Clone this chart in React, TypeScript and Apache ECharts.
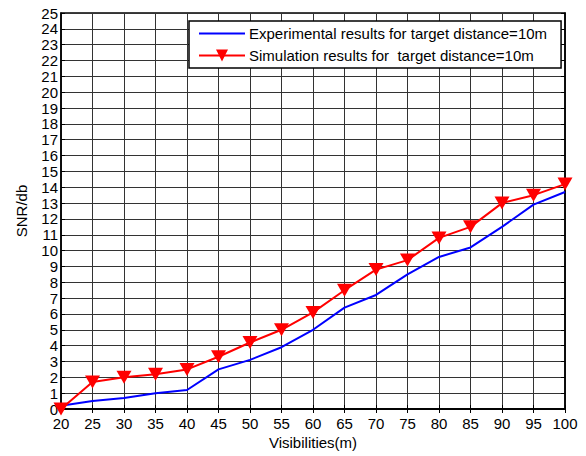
import React, { useEffect, useRef } from "react";
import * as echarts from "echarts";

const visibilities = [20, 25, 30, 35, 40, 45, 50, 55, 60, 65, 70, 75, 80, 85, 90, 95, 100];
const experimental = [0.2, 0.5, 0.7, 1.0, 1.2, 2.5, 3.1, 3.9, 5.0, 6.4, 7.2, 8.5, 9.6, 10.2, 11.5, 12.9, 13.7];
const simulation = [0.0, 1.7, 2.0, 2.2, 2.5, 3.3, 4.2, 5.0, 6.1, 7.5, 8.8, 9.4, 10.8, 11.5, 13.0, 13.5, 14.2];
const seriesNames = [
  "Experimental results for target distance=10m",
  "Simulation results for  target distance=10m",
];

const FONT = "Liberation Sans, Arial, sans-serif";
const FS = 15;

export default function App() {
  const ref = useRef<HTMLDivElement>(null);
  useEffect(() => {
    if (!ref.current) return;
    const chart = echarts.init(ref.current, null, { renderer: "svg" });
    const gridLine = { show: true, lineStyle: { color: "#333", width: 1 } };
    const tick = { show: true, inside: true, length: 4, lineStyle: { color: "#000", width: 1 } };
    chart.setOption({
      animation: false,
      backgroundColor: "#fff",
      textStyle: { fontFamily: FONT },
      grid: { left: 61, top: 13, right: 21, bottom: 47, show: true, borderColor: "#000", borderWidth: 1.5 },
      legend: {
        left: 189,
        top: 21,
        orient: "vertical",
        backgroundColor: "#fff",
        borderColor: "#000",
        borderWidth: 1.5,
        borderRadius: 0,
        padding: [5, 14, 5, 9],
        itemGap: 7,
        itemWidth: 46,
        itemHeight: 15,
        textStyle: { fontSize: FS, color: "#000", fontFamily: FONT, padding: [0, 0, 0, -1] },
        data: [
          { name: seriesNames[0], itemStyle: { color: "rgba(0,0,0,0)", borderWidth: 0 } },
          { name: seriesNames[1] },
        ],
      },
      xAxis: [
        {
          type: "value",
          min: 20,
          max: 100,
          interval: 5,
          name: "Visibilities(m)",
          nameLocation: "middle",
          nameGap: 26,
          nameTextStyle: { fontSize: FS, color: "#000", fontFamily: FONT },
          axisLine: { show: true, lineStyle: { color: "#000", width: 1.5 } },
          axisTick: tick,
          axisLabel: { fontSize: FS, color: "#000", margin: 8, lineHeight: 12, fontFamily: FONT },
          splitLine: gridLine,
        },
        {
          type: "value",
          position: "top",
          min: 20,
          max: 100,
          interval: 5,
          axisLine: { show: true, lineStyle: { color: "#000", width: 1.5 } },
          axisTick: tick,
          axisLabel: { show: false },
          splitLine: { show: false },
        },
      ],
      yAxis: [
        {
          type: "value",
          min: 0,
          max: 25,
          interval: 1,
          name: "SNR/db",
          nameLocation: "middle",
          nameGap: 32,
          nameTextStyle: { fontSize: FS, color: "#000", fontFamily: FONT },
          axisLine: { show: true, lineStyle: { color: "#000", width: 1.5 } },
          axisTick: tick,
          axisLabel: { fontSize: FS, color: "#000", margin: 3, lineHeight: 12, fontFamily: FONT },
          splitLine: gridLine,
        },
        {
          type: "value",
          position: "right",
          min: 0,
          max: 25,
          interval: 1,
          axisLine: { show: true, lineStyle: { color: "#000", width: 1.5 } },
          axisTick: tick,
          axisLabel: { show: false },
          splitLine: { show: false },
        },
      ],
      series: [
        {
          name: seriesNames[0],
          type: "line",
          data: visibilities.map((v, i) => [v, experimental[i]]),
          symbol: "none",
          lineStyle: { color: "#0000ff", width: 2 },
          itemStyle: { color: "#0000ff" },
          z: 3,
        },
        {
          name: seriesNames[1],
          type: "line",
          data: visibilities.map((v, i) => [v, simulation[i]]),
          symbol: "triangle",
          symbolSize: [15, 13],
          symbolRotate: 180,
          lineStyle: { color: "#ff0000", width: 2 },
          itemStyle: { color: "#ff0000" },
          z: 4,
        },
      ],
    });
    return () => chart.dispose();
  }, []);
  return <div ref={ref} style={{ position: "fixed", left: 0, top: 0, width: 586, height: 456 }} />;
}
